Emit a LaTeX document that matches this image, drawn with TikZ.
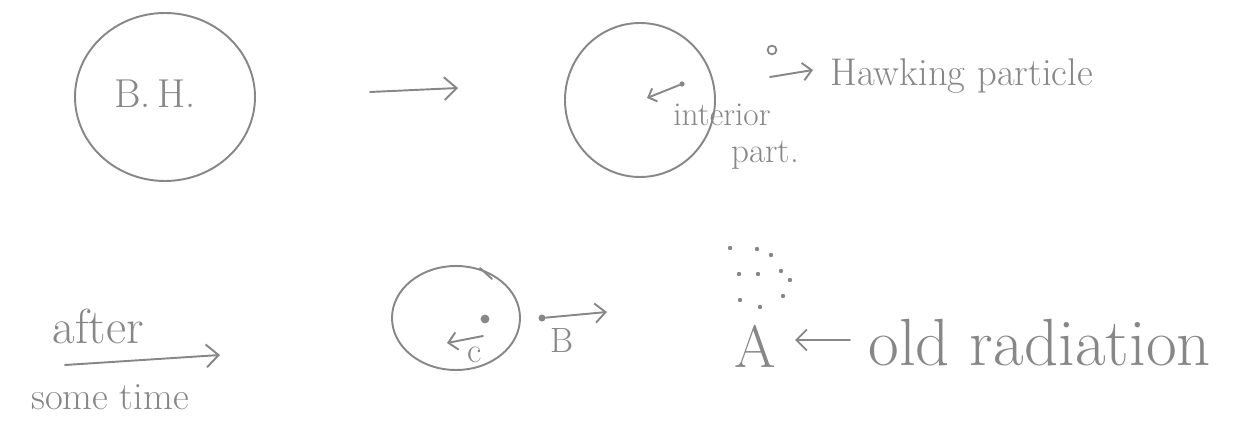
\documentclass[tikz,border=0pt]{standalone}
\usetikzlibrary{arrows.meta,shapes.geometric}
\definecolor{pencil}{RGB}{135,135,135}
\begin{document}
\begin{tikzpicture}[x=0.02cm,y=-0.02cm,
  line/.style={draw=pencil,line width=1.1pt,line cap=round},
  bh/.style={ellipse,draw=pencil,line width=1.1pt,inner sep=0pt},
  lbl/.style={text=pencil,inner sep=0pt},
  arr/.style={line,-{Straight Barb[length=7pt,width=13pt]}},
  dotn/.style={circle,fill=pencil,inner sep=0pt,minimum size=4pt}]
\useasboundingbox (0,0) rectangle (1255,428);
% top row
\node[bh,minimum width=180*0.02cm,minimum height=168*0.02cm] (bh1) at (165,97) {};
\node[lbl,font=\fontsize{23}{25}\selectfont] (bhl) at (155,94) {B.\,H.};
\coordinate (a1s) at (370,92);
\coordinate (a1e) at (458,88);
\draw[arr] (a1s) -- (a1e);
\node[bh,minimum width=150*0.02cm,minimum height=154*0.02cm] (bh2) at (640,100) {};
\node[dotn,minimum size=3pt] (pin) at (682,84) {};
\coordinate (pine) at (647,98);
\draw[line,-{Straight Barb[length=4pt,width=8pt]}] (pin) -- (pine);
\node[lbl,font=\fontsize{19}{21}\selectfont] (inter) at (722,115) {interior};
\node[lbl,font=\fontsize{20}{22}\selectfont] (part) at (765,155) {part.};
\node[circle,draw=pencil,line width=1pt,inner sep=0pt,minimum size=5pt] (hp) at (772,50) {};
\coordinate (hps) at (770,77);
\coordinate (hpe) at (813,70);
\draw[line,-{Straight Barb[length=5pt,width=10pt]}] (hps) -- (hpe);
\node[lbl,font=\fontsize{22}{24}\selectfont,anchor=west] (hpl) at (830,76) {Hawking particle};
% bottom row
\node[lbl,font=\fontsize{28}{30}\selectfont] (after) at (98,326) {after};
\coordinate (a2s) at (65,365);
\coordinate (a2e) at (220,355);
\draw[arr] (a2s) -- (a2e);
\node[lbl,font=\fontsize{22}{24}\selectfont] (time) at (110,397) {some time};
\node[bh,minimum width=128*0.02cm,minimum height=104*0.02cm] (bh3) at (456,318) {};
\coordinate (ov1) at (480,268);
\coordinate (ov2) at (492,279);
\draw[line] (ov1) -- (ov2);
\node[dotn,minimum size=5pt] (pc) at (485,319) {};
\coordinate (cs) at (483,336);
\coordinate (ce) at (447,343);
\draw[line,-{Straight Barb[length=5pt,width=10pt]}] (cs) -- (ce);
\node[lbl,font=\fontsize{20}{22}\selectfont] (cl) at (475,355) {c};
\node[dotn,minimum size=4pt] (pb) at (542,318) {};
\coordinate (be) at (607,312);
\draw[line,-{Straight Barb[length=6pt,width=11pt]}] (pb) -- (be);
\node[lbl,font=\fontsize{20}{22}\selectfont] (bl) at (562,341) {B};
\foreach \p [count=\i] in {(730,248),(757,249),(771,255),(739,274),(758,274),(781,271),(790,280),(740,300),(783,296),(760,307)}
  \node[circle,fill=pencil,inner sep=0pt,minimum size=2.5pt] (d\i) at \p {};
\node[lbl,font=\fontsize{34}{36}\selectfont] (al) at (755,346) {A};
\coordinate (os) at (850,340);
\coordinate (oe) at (795,340);
\draw[line,-{Straight Barb[length=6pt,width=12pt]}] (os) -- (oe);
\node[lbl,font=\fontsize{38}{40}\selectfont,anchor=west] (old) at (868,343) {old radiation};
\end{tikzpicture}
\end{document}
